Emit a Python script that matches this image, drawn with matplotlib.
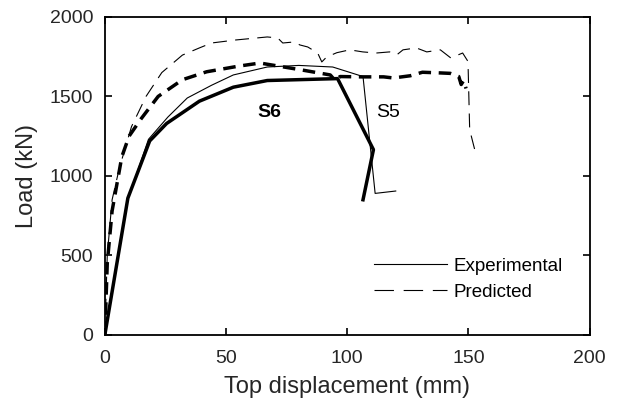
import matplotlib
matplotlib.use('Agg')
import matplotlib.pyplot as plt
from matplotlib.lines import Line2D

plt.rcParams['font.family'] = ['Liberation Sans', 'DejaVu Sans']
plt.rcParams['lines.scale_dashes'] = False

# S5 experimental (thin solid)
s5_exp_x = [0, 9, 18, 26, 34, 44, 53, 67, 80, 94, 106.5, 111.5, 120]
s5_exp_y = [0, 830, 1230, 1370, 1490, 1570, 1635, 1685, 1695, 1685, 1625, 890, 905]

# S6 experimental (thick solid)
s6_exp_x = [0, 9.5, 18.5, 25.5, 39, 53, 67, 96, 110.8, 106.5]
s6_exp_y = [0, 860, 1220, 1330, 1470, 1558, 1600, 1612, 1165, 850]

# S5 predicted (thin dashed)
s5_pred_x = [0, 1, 3, 6, 11, 17, 23.5, 32, 39, 44, 54, 67, 71.3, 73.4, 78.4, 80.4, 83.7,
             87.8, 89.5, 91.5, 95.7, 101, 106.4, 112, 117.5, 120.4, 123, 128.5, 132.8,
             138.4, 142.7, 147.6, 149.8, 150.5, 153]
s5_pred_y = [0, 500, 850, 1050, 1310, 1500, 1650, 1760, 1805, 1836, 1855, 1874, 1868,
             1836, 1843, 1824, 1811, 1773, 1717, 1748, 1775, 1793, 1780, 1773, 1780, 1761,
             1793, 1805, 1780, 1793, 1742, 1773, 1720, 1290, 1140]

# S6 predicted (thick dashed)
s6_pred_x = [0, 1, 3, 7, 10, 15, 22, 32, 42, 55, 64, 81, 93, 95, 97, 105, 115, 119, 126,
             131, 138, 142.5, 146, 147, 148, 149]
s6_pred_y = [0, 450, 780, 1120, 1250, 1360, 1500, 1605, 1655, 1690, 1710, 1667, 1635,
             1600, 1625, 1623, 1623, 1616, 1630, 1652, 1648, 1645, 1625, 1575, 1600, 1550]

fig = plt.figure(figsize=(6.24, 4.03), dpi=100)
ax = fig.add_axes([0.168, 0.169, 0.777, 0.789])

thin_dash = (0, (10, 6))
thick_dash = (0, (9, 5.5))
ax.plot(s5_pred_x, s5_pred_y, color='black', lw=0.8, linestyle=thin_dash)
ax.plot(s6_pred_x, s6_pred_y, color='black', lw=2.5, linestyle=thick_dash)
ax.plot(s5_exp_x, s5_exp_y, color='black', lw=0.8)
ax.plot(s6_exp_x, s6_exp_y, color='black', lw=2.5)

ax.text(68, 1400, 'S6', fontsize=14, fontweight='bold', ha='center', va='center')
ax.text(117, 1400, 'S5', fontsize=14, ha='center', va='center')

handles = [Line2D([], [], color='black', lw=0.8),
           Line2D([], [], color='black', lw=0.8, linestyle=(0, (14, 7)))]
ax.legend(handles, ['Experimental', 'Predicted'], frameon=False, fontsize=13.5,
          loc='lower right', bbox_to_anchor=(0.98, 0.055), handlelength=3.9,
          handletextpad=0.35, labelspacing=0.45)

ax.set_xlim(0, 200)
ax.set_ylim(0, 2000)
ax.set_xticks([0, 50, 100, 150, 200])
ax.set_yticks([0, 500, 1000, 1500, 2000])
ax.tick_params(direction='in', length=5, width=1.2, labelsize=14, top=True, right=True,
               colors='black', labelcolor='#262626')
ax.tick_params(axis='x', pad=11)
ax.tick_params(axis='y', pad=8.5)
for s in ax.spines.values():
    s.set_linewidth(1.3)
ax.set_xlabel('Top displacement (mm)', fontsize=17, color='#262626', labelpad=6)
ax.set_ylabel('Load (kN)', fontsize=17, color='#262626', labelpad=8)

fig.savefig('out.png', dpi=100)
